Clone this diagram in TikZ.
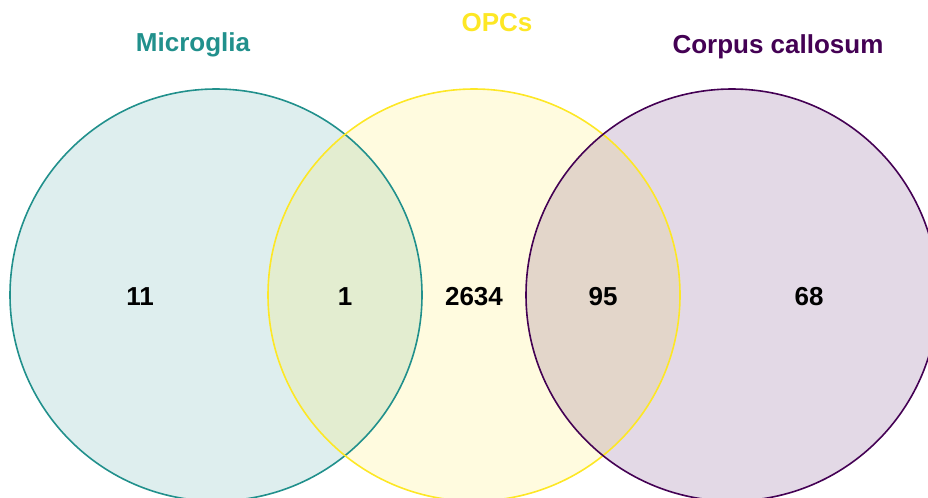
\documentclass[tikz,border=0pt]{standalone}
\usepackage{fontspec}
\setmainfont{Liberation Sans}
\definecolor{micro}{HTML}{21908C}
\definecolor{opc}{HTML}{FDE725}
\definecolor{cc}{HTML}{440154}
\begin{document}
\begin{tikzpicture}[x=0.75pt,y=-0.75pt,
		set/.style={circle, fill=#1, fill opacity=0.15, minimum size=309pt, inner sep=0pt},
		rim/.style={draw=#1, line width=1.2pt},
		count/.style={font=\fontsize{19.5}{23}\selectfont\bfseries},
		title/.style={font=\fontsize{19.5}{23}\selectfont\bfseries, text=#1}]
		\useasboundingbox (0,0) rectangle (928,497);
		\clip (0,0) rectangle (928,497);
		
		% Sets
		\node[set=micro] (microglia) at (216,295) {};
		\node[set=opc] (opcs) at (474,295) {};
		\node[set=cc] (callosum) at (732,295) {};
		
		% Outlines on top of the fills
		\draw[rim=micro] (microglia.center) circle [radius=154.5pt];
		\draw[rim=opc] (opcs.center) circle [radius=154.5pt];
		\draw[rim=cc] (callosum.center) circle [radius=154.5pt];
		
		% Titles
		\node[title=micro] (tmicro) at (193,45) {Microglia};
		\node[title=opc] (topc) at (497,23) {OPCs};
		\node[title=cc] (tcc) at (778,47) {Corpus callosum};
		
		% Counts
		\node[count] (n11) at (140,297) {11};
		\node[count] (n1) at (345,297) {1};
		\node[count] (n2634) at (474,297) {2634};
		\node[count] (n95) at (603,297) {95};
		\node[count] (n68) at (809,297) {68};
	\end{tikzpicture}
\end{document}
